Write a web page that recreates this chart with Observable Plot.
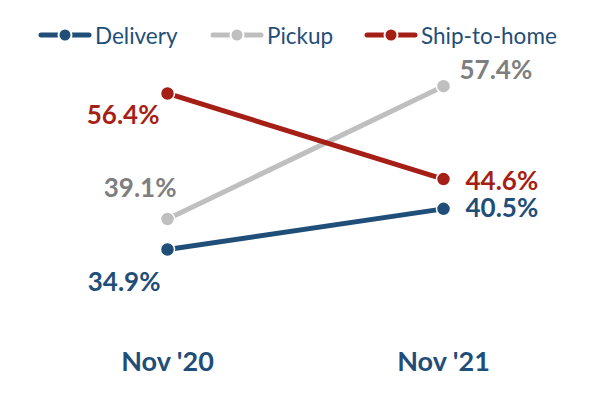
<!DOCTYPE html>
<html><head><meta charset="utf-8">
<script src="https://cdn.jsdelivr.net/npm/d3@7"></script>
<script src="https://cdn.jsdelivr.net/npm/@observablehq/plot@0.6"></script>
<style>
body{margin:0;background:#fff;font-family:Lato,"Noto Sans",sans-serif;}
#legend{height:50px;position:relative;width:593px;}
.item{position:absolute;top:23px;height:24px;display:flex;align-items:center;font-size:22.5px;color:#1f4e79;}
.item svg{margin-right:3px;}
</style></head><body>
<div id="legend"></div><div id="chart"></div>
<script>
const periods = ["Nov '20", "Nov '21"];
const seriesNames = ["Delivery", "Pickup", "Ship-to-home"];
const delivery = [34.9, 40.5];
const pickup = [39.1, 57.4];
const shipToHome = [56.4, 44.6];
const lineColors = ["#1f4e79", "#bfbfbf", "#a61f16"];
const labelColors = ["#1f4e79", "#7f7f7f", "#a61f16"];

const values = [delivery, pickup, shipToHome];
const rows = seriesNames.flatMap((s, i) => periods.map((p, j) => ({series: s, period: p, value: values[i][j]})));

// Legend
const legend = document.getElementById("legend");
const lefts = [38, 210, 364];
seriesNames.forEach((s, i) => {
  const d = document.createElement("div");
  d.className = "item";
  d.style.left = lefts[i] + "px";
  d.innerHTML = `<svg width="54" height="16"><line x1="3" y1="8" x2="51" y2="8" stroke="${lineColors[i]}" stroke-width="5" stroke-linecap="round"/><circle cx="27" cy="8" r="6.5" fill="${lineColors[i]}" stroke="#fff" stroke-width="2"/></svg><span>${s}</span>`;
  legend.appendChild(d);
});

function label(series, period, anchor, dx, dy) {
  const i = seriesNames.indexOf(series);
  return Plot.text(rows.filter(r => r.series === series && r.period === period), {
    x: "period", y: "value", text: r => r.value.toFixed(1) + "%",
    fill: labelColors[i], textAnchor: anchor, dx, dy,
    fontSize: 26, fontWeight: "bold", fontFamily: "Lato"
  });
}

const chart = Plot.plot({
  width: 593, height: 347,
  marginLeft: 167, marginRight: 150, marginTop: 0, marginBottom: 50,
  x: {type: "point", domain: periods, padding: 0},
  y: {domain: [34.9, 57.4], range: [199, 35.7], axis: null},
  color: {domain: seriesNames, range: lineColors},
  style: {fontFamily: "Lato"},
  marks: [
    Plot.line(rows, {x: "period", y: "value", z: "series", stroke: "series", strokeWidth: 5}),
    Plot.dot(rows, {x: "period", y: "value", fill: "series", r: 7, stroke: "#fff", strokeWidth: 1.5}),
    label("Ship-to-home", "Nov '20", "end", -8, 22),
    label("Pickup", "Nov '20", "end", 9, -30),
    label("Delivery", "Nov '20", "end", -7, 33),
    label("Pickup", "Nov '21", "start", 16, -16),
    label("Ship-to-home", "Nov '21", "start", 22, 3),
    label("Delivery", "Nov '21", "start", 22, 0),
    Plot.axisX({tickSize: 0, tickPadding: 4, fontSize: 27, fontWeight: "bold", fill: "#1f4e79", label: null})
  ]
});
document.getElementById("chart").appendChild(chart);
</script>
</body></html>
